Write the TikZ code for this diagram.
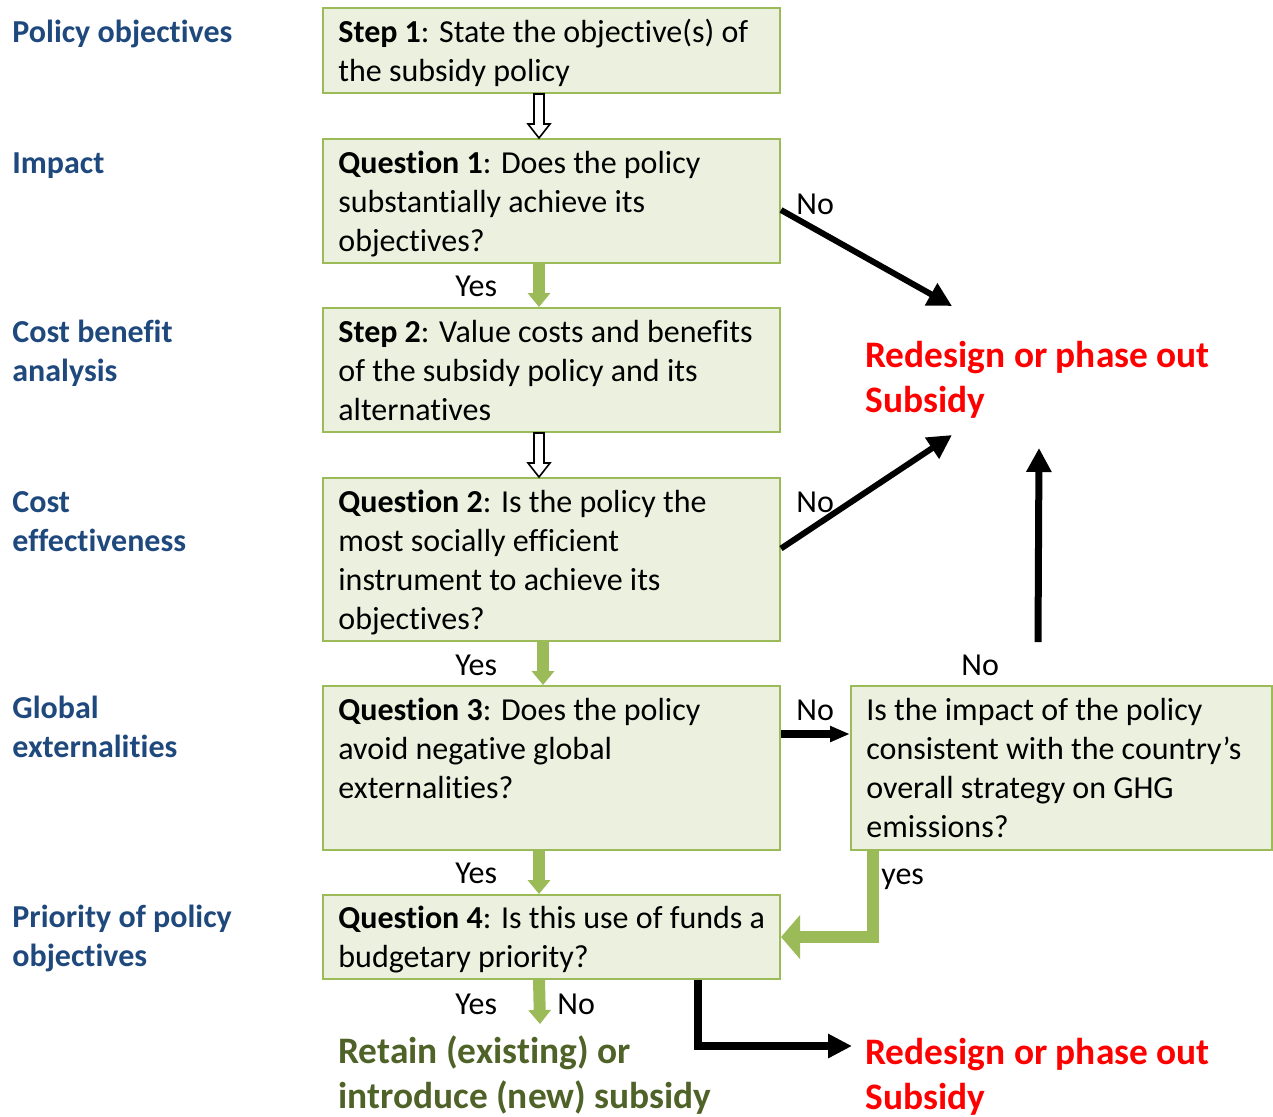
\documentclass[tikz,border=0pt]{standalone}
\usepackage{fontspec}
\setmainfont{Carlito}[Ligatures=NoCommon]
\usetikzlibrary{arrows.meta,calc,fit}
\definecolor{boxfill}{HTML}{EBF1DE}
\definecolor{boxline}{HTML}{9BBB59}
\definecolor{lblue}{HTML}{1F497D}
\definecolor{dgreen}{HTML}{4F6228}
\definecolor{redtxt}{HTML}{FF0000}
\begin{document}
\begin{tikzpicture}[x=0.5pt,y=-0.5pt,
  box/.style={draw=boxline, fill=boxfill, line width=1pt, inner sep=0pt},
  txt/.style={anchor=north west, inner sep=0pt, align=left, font=\fontsize{16pt}{19.5pt}\selectfont},
  side/.style={anchor=north west, inner sep=0pt, align=left, font=\fontsize{16pt}{19.5pt}\selectfont\bfseries, text=lblue},
  big/.style={anchor=north west, inner sep=0pt, align=left, font=\fontsize{18.7pt}{22.5pt}\selectfont\bfseries},
  hollow/.style={draw=black, fill=white, line width=0.8pt, line join=miter},
  greenarrow/.style={draw=boxline, line width=6pt, -{Triangle[length=7pt,width=11pt]}},
  greenL/.style={draw=boxline, line width=6pt, line join=miter, -{Triangle[length=9.5pt,width=21.5pt]}},
  blackarrow/.style={draw=black, line width=3pt, -{Triangle[length=12pt,width=12pt]}},
  thinblack/.style={draw=black, line width=4pt, -{Triangle[length=10pt,width=7.5pt]}},
  elbowblack/.style={draw=black, line width=4pt, line join=miter, -{Triangle[length=12pt,width=11.5pt]}}
]
\useasboundingbox (0,0) rectangle (1273,1116);

% boxes
\node[box, fit={(323,8) (780,93)}] (s1) {};
\node[box, fit={(323,139) (780,263)}] (q1) {};
\node[box, fit={(323,308) (780,432)}] (s2) {};
\node[box, fit={(323,478) (780,641)}] (q2) {};
\node[box, fit={(323,686) (780,850)}] (q3) {};
\node[box, fit={(323,895) (780,979)}] (q4) {};
\node[box, fit={(851,686) (1272,850)}] (r) {};

% box texts
\node[txt] (s1t) at (338,15) {\strut\textbf{Step 1}: State the objective(s) of\\the subsidy policy};
\node[txt] (q1t) at (338,146) {\strut\textbf{Question 1}: Does the policy\\substantially achieve its\\objectives?};
\node[txt] (s2t) at (338,315) {\strut\textbf{Step 2}: Value costs and benefits\\of the subsidy policy and its\\alternatives};
\node[txt] (q2t) at (338,485) {\strut\textbf{Question 2}: Is the policy the\\most socially efficient\\instrument to achieve its\\objectives?};
\node[txt] (q3t) at (338,693) {\strut\textbf{Question 3}: Does the policy\\avoid negative global\\externalities?};
\node[txt] (q4t) at (338,901) {\strut\textbf{Question 4}: Is this use of funds a\\budgetary priority?};
\node[txt] (rt) at (866,693) {\strut Is the impact of the policy\\consistent with the country’s\\overall strategy on GHG\\emissions?};

% side labels
\node[side] (l1) at (12,15) {\strut Policy objectives};
\node[side] (l2) at (12,146) {\strut Impact};
\node[side] (l3) at (12,315) {\strut Cost benefit\\analysis};
\node[side] (l4) at (12,485) {\strut Cost\\effectiveness};
\node[side] (l5) at (12,691) {\strut Global\\externalities};
\node[side] (l6) at (12,900) {\strut Priority of policy\\objectives};

% outcomes
\node[big, text=redtxt] (red1) at (865,335.5) {\strut Redesign or phase out\\Subsidy};
\node[big, text=redtxt] (red2) at (865,1032.5) {\strut Redesign or phase out\\Subsidy};
\node[big, text=dgreen] (retain) at (338,1031.5) {\strut Retain (existing) or\\introduce (new) subsidy};

% small labels
\node[txt] (y1) at (455,269) {\strut Yes};
\node[txt] (y2) at (455,648) {\strut Yes};
\node[txt] (n5) at (961,648) {\strut No};
\node[txt] (y3) at (455,856) {\strut Yes};
\node[txt] (y4) at (881,857) {\strut yes};
\node[txt] (y5) at (455,987) {\strut Yes};
\node[txt] (n6) at (557,987) {\strut No};
\node[txt] (n1) at (796,187) {\strut No};
\node[txt] (n2) at (796,485) {\strut No};
\node[txt] (n3) at (796,693) {\strut No};

% coordinates
\coordinate (a1) at ($(s1.south west)+(217,0)$);
\coordinate (b1) at ($(q1.north west)+(217,0)$);
\coordinate (a2) at ($(s2.south west)+(217,0)$);
\coordinate (b2) at ($(q2.north west)+(217,0)$);
\coordinate (tip1) at (952,306);
\coordinate (tip2) at (952,435);
\coordinate (tip3) at (1039,448);
\coordinate (tip4) at (852,1046);
\coordinate (retaintop) at (540,1024);

% hollow arrows
\draw[hollow] ($(a1)+(-5,0)$) -- ($(b1)+(-5,-14)$) -- ($(b1)+(-11,-14)$) -- (b1) -- ($(b1)+(11,-14)$) -- ($(b1)+(5,-14)$) -- ($(a1)+(5,0)$) -- cycle;
\draw[hollow] ($(a2)+(-5,0)$) -- ($(b2)+(-5,-14)$) -- ($(b2)+(-11,-14)$) -- (b2) -- ($(b2)+(11,-14)$) -- ($(b2)+(5,-14)$) -- ($(a2)+(5,0)$) -- cycle;

% green arrows
\draw[greenarrow] ($(q1.south west)+(217,0)$) -- ($(s2.north west)+(217,0)$);
\draw[greenarrow] ($(q2.south west)+(221,0)$) -- ($(q3.north west)+(221,0)$);
\draw[greenarrow] ($(q3.south west)+(217,0)$) -- ($(q4.north west)+(217,0)$);
\draw[greenarrow] ($(q4.south west)+(217,0)$) -- (retaintop);
\draw[greenL] ($(r.south west)+(23,0)$) |- (q4.east);

% black arrows
\draw[blackarrow] ($(q1.east)+(0,9)$) -- (tip1);
\draw[blackarrow] ($(q2.east)+(0,-11)$) -- (tip2);
\draw[blackarrow, line width=3.5pt] ($(r.north west)+(188,-43)$) -- (tip3);
\draw[thinblack] ($(q3.north east)+(0,49)$) -- ($(r.north west)+(0,49)$);
\draw[elbowblack] ($(q4.south west)+(376,0)$) |- (tip4);
\end{tikzpicture}
\end{document}
